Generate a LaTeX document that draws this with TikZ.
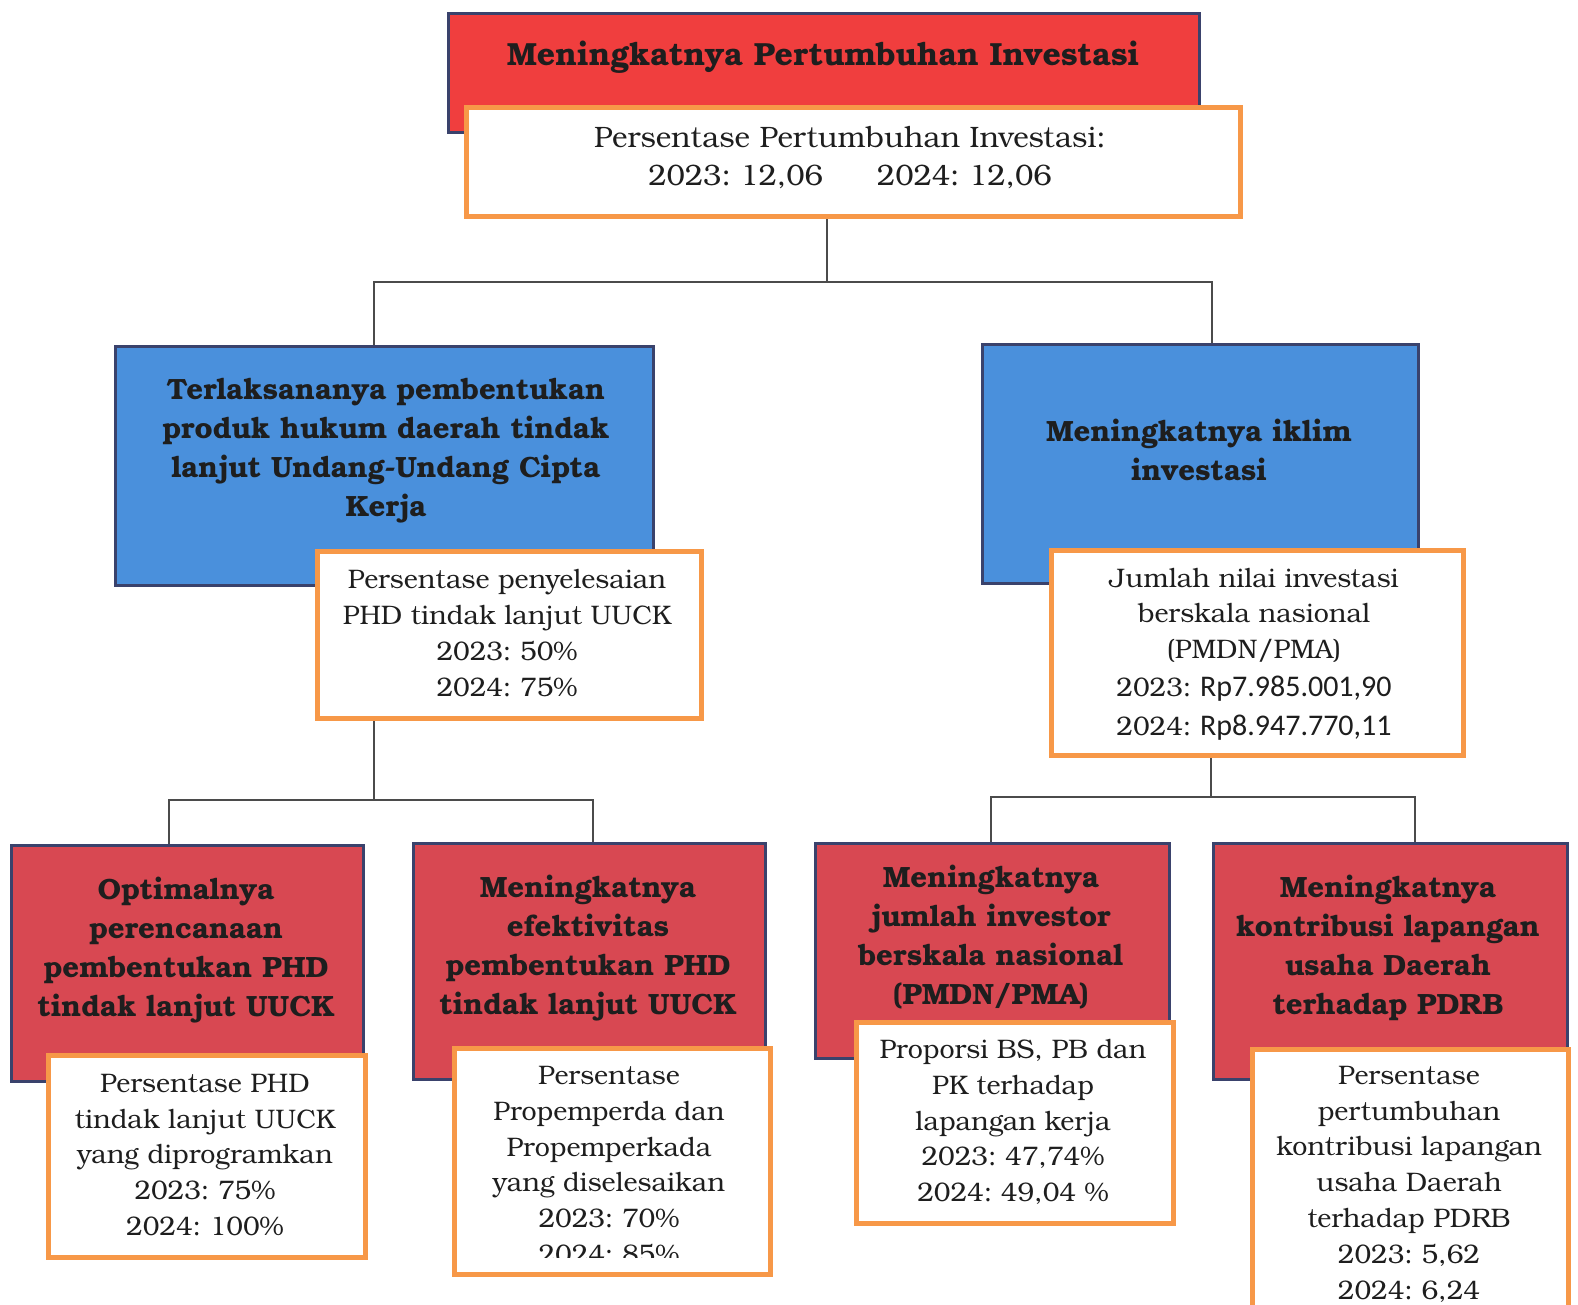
\documentclass[tikz,border=0pt]{standalone}
\usepackage{fontspec}
\setmainfont{TeX Gyre Bonum}
\newfontfamily\carl{Carlito}
\definecolor{topred}{RGB}{240,62,62}
\definecolor{midblue}{RGB}{74,144,220}
\definecolor{lowred}{RGB}{216,72,82}
\definecolor{navy}{RGB}{58,66,108}
\definecolor{orng}{RGB}{247,152,72}
\definecolor{ink}{RGB}{30,30,30}
\tikzset{
  redtop/.style={fill=topred, draw=navy, line width=2.5pt, inner sep=0pt, anchor=north west},
  bluebox/.style={fill=midblue, draw=navy, line width=2.5pt, inner sep=0pt, anchor=north west},
  redlow/.style={fill=lowred, draw=navy, line width=2.5pt, inner sep=0pt, anchor=north west},
  whitebox/.style={fill=white, draw=orng, line width=5pt, inner sep=0pt, anchor=north west},
  btxt/.style={font=\frenchspacing\bfseries\fontsize{29.3}{39}\selectfont, align=center, text=ink, inner sep=0pt},
  ltxt/.style={font=\frenchspacing\fontsize{26.8}{35.8}\selectfont, align=center, text=ink, inner sep=0pt},
  conn/.style={draw=ink!80, line width=1.5pt}
}
\begin{document}
\begin{tikzpicture}[x=1pt,y=-1pt]
\useasboundingbox (0,0) rectangle (1578,1304);
\clip (0,0) rectangle (1578,1304);
\fill[white] (0,0) rectangle (1578,1304);

% boxes
\node[redtop, minimum width=751, minimum height=119] (top) at (447,12) {};
\node[whitebox, minimum width=774, minimum height=109] (topw) at (464,105) {};
\node[bluebox, minimum width=538, minimum height=239] (lb) at (114,345) {};
\node[whitebox, minimum width=384, minimum height=167] (lw) at (315,549) {};
\node[bluebox, minimum width=436, minimum height=239] (rb) at (981,343) {};
\node[whitebox, minimum width=412, minimum height=205] (rw) at (1049,548) {};

\node[redlow, minimum width=352, minimum height=236] (r1) at (10,844) {};
\node[whitebox, minimum width=317, minimum height=202] (w1) at (46,1053) {};
\node[redlow, minimum width=352, minimum height=236] (r2) at (412,842) {};
\node[whitebox, minimum width=316, minimum height=226] (w2) at (452,1046) {};
\node[redlow, minimum width=354, minimum height=215] (r3) at (814,842) {};
\node[whitebox, minimum width=317, minimum height=201] (w3) at (854,1020) {};
\node[redlow, minimum width=354, minimum height=236] (r4) at (1212,842) {};
\node[whitebox, minimum width=316, minimum height=275] (w4) at (1250,1047) {};

% connectors
\coordinate (jA) at (827,282);
\coordinate (jAL) at (374,282);
\coordinate (jAR) at (1212,282);
\draw[conn] (jA |- topw.south) -- (jA);
\draw[conn] (jAL |- lb.north) -- (jAL) -- (jAR) -- (jAR |- rb.north);

\coordinate (jB) at (374,800);
\coordinate (jBL) at (169,800);
\coordinate (jBR) at (593,800);
\draw[conn] (jB |- lw.south) -- (jB);
\draw[conn] (jBL |- r1.north) -- (jBL) -- (jBR) -- (jBR |- r2.north);

\coordinate (jC) at (1211,797);
\coordinate (jCL) at (991,797);
\coordinate (jCR) at (1415,797);
\draw[conn] (jC |- rw.south) -- (jC);
\draw[conn] (jCL |- r3.north) -- (jCL) -- (jCR) -- (jCR |- r4.north);

% texts
\node[btxt, font=\bfseries\fontsize{32}{39}\selectfont] (ttop) at (823,57) {Meningkatnya Pertumbuhan Investasi};
\node[ltxt, font=\frenchspacing\fontsize{29.5}{38}\selectfont] (ttopw) at (850,158) {Persentase Pertumbuhan Investasi:\\2023: 12,06\hspace{54pt}2024: 12,06};

\node[btxt] (tlb) at (386,451) {Terlaksananya pembentukan\\produk hukum daerah tindak\\lanjut Undang-Undang Cipta\\Kerja};
\node[ltxt] (tlw) at (507,633) {Persentase penyelesaian\\PHD tindak lanjut UUCK\\2023: 50\%\\2024: 75\%};

\node[btxt] (trb) at (1199,450) {Meningkatnya iklim\\investasi};
\node[ltxt] (trw) at (1254,654) {Jumlah nilai investasi\\berskala nasional\\(PMDN/PMA)\\[2pt]2023: {\carl\fontsize{30}{36}\selectfont Rp7.985.001,90}\\[3pt]2024: {\carl\fontsize{30}{36}\selectfont Rp8.947.770,11}};

\node[btxt] (tr1) at (186,950) {Optimalnya\\perencanaan\\pembentukan PHD\\tindak lanjut UUCK};
\node[ltxt] (tw1) at (205,1155) {Persentase PHD\\tindak lanjut UUCK\\yang diprogramkan\\2023: 75\%\\2024: 100\%};

\node[btxt] (tr2) at (588,948) {Meningkatnya\\efektivitas\\pembentukan PHD\\tindak lanjut UUCK};
\begin{scope}
\clip (455,1049) rectangle (766,1257);
\node[ltxt] (tw2) at (609,1165) {Persentase\\Propemperda dan\\Propemperkada\\yang diselesaikan\\2023: 70\%\\2024: 85\%};
\end{scope}

\node[btxt] (tr3) at (991,937) {Meningkatnya\\jumlah investor\\berskala nasional\\(PMDN/PMA)};
\node[ltxt] (tw3) at (1013,1122) {Proporsi BS, PB dan\\PK terhadap\\lapangan kerja\\2023: 47,74\%\\2024: 49,04 \%};

\node[btxt] (tr4) at (1388,948) {Meningkatnya\\kontribusi lapangan\\usaha Daerah\\terhadap PDRB};
\node[ltxt] (tw4) at (1409,1184) {Persentase\\pertumbuhan\\kontribusi lapangan\\usaha Daerah\\terhadap PDRB\\2023: 5,62\\2024: 6,24};
\end{tikzpicture}
\end{document}
